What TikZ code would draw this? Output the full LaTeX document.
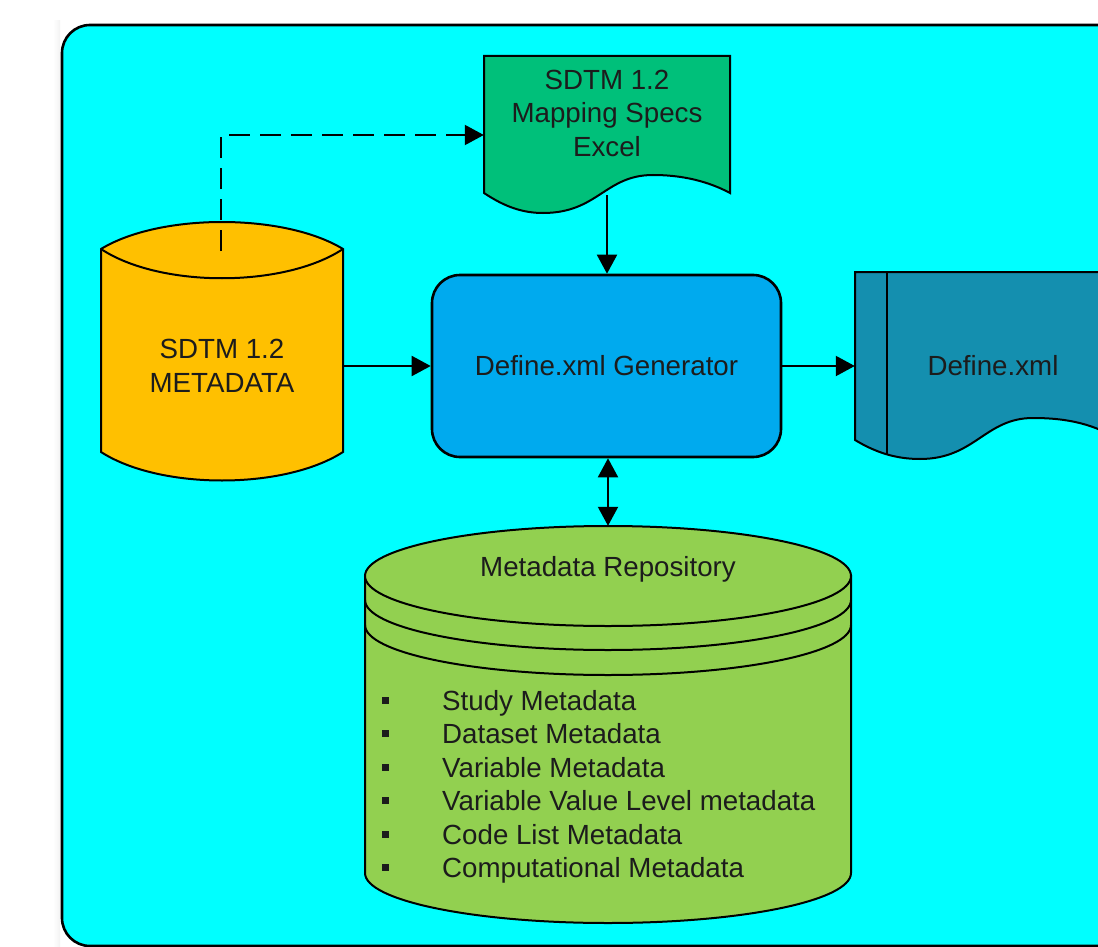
\documentclass[tikz,border=0pt]{standalone}
\usepackage{fontspec}
\setmainfont{Liberation Sans}
\usetikzlibrary{arrows.meta}
\definecolor{bgcyan}{RGB}{0,255,255}
\definecolor{ylw}{RGB}{255,192,0}
\definecolor{specgreen}{RGB}{0,192,122}
\definecolor{genblue}{RGB}{0,170,238}
\definecolor{defteal}{RGB}{20,143,175}
\definecolor{repogreen}{RGB}{146,208,80}
\definecolor{txtcol}{RGB}{28,28,28}
\newcommand\bulbox{\makebox[60pt][l]{\rule[6.5pt]{7pt}{7pt}}}
\tikzset{
  outline/.style={draw=black, line width=2},
  lbl/.style={font=\fontsize{27.7}{33.5}\selectfont, text=txtcol, align=center},
  conn/.style={draw=black, line width=2, -{Triangle[length=19pt,width=20pt]}},
  dconn/.style={draw=black, line width=2, {Triangle[length=19pt,width=20pt]}-{Triangle[length=19pt,width=20pt]}},
  dashconn/.style={conn, dash pattern=on 21pt off 10pt},
}
\begin{document}
\begin{tikzpicture}[x=1pt,y=-1pt]
\useasboundingbox (0,0) rectangle (1098,947);
\clip (0,0) rectangle (1098,947);
\fill[white] (0,0) rectangle (1098,947);
% faint shadow
\fill[left color=white, right color=black!5] (53,21) rectangle (60,947);
% card
\draw[line width=2.6, fill=bgcyan, rounded corners=28] (62,25) rectangle (1160,946);

% yellow cylinder
\filldraw[outline, fill=ylw] (101,249) .. controls (160,213) and (284,213) .. (343,249)
  -- (343,452) .. controls (284,490) and (160,490) .. (101,452) -- cycle;
\draw[outline] (101,249) .. controls (160,288) and (284,288) .. (343,249);
\node[lbl, minimum width=242, minimum height=285] (meta) at (222,366) {SDTM 1.2\\METADATA};
\coordinate (metatop) at (221,251);

% green spec document
\filldraw[outline, fill=specgreen] (484,56) -- (730,56) -- (730,193)
  .. controls (715,185) and (690,175) .. (653,175)
  .. controls (605,175) and (598,213) .. (543,213)
  .. controls (523,213) and (505,207) .. (484,193) -- cycle;
\node[minimum width=246, minimum height=139, inner sep=0] (spec) at (607,125.5) {};
\node[lbl] (spectext) at (607,113) {SDTM 1.2\\Mapping Specs\\Excel};

% generator
\node[lbl, draw=black, line width=2.6, fill=genblue, rounded corners=28,
      minimum width=349, minimum height=182, inner sep=0] (gen) at (606.5,366) {Define.xml Generator};

% Define.xml document
\filldraw[outline, fill=defteal] (855,272) -- (1150,272) -- (1150,452) -- (1120,440)
  .. controls (1095,425) and (1070,418) .. (1033,418)
  .. controls (985,418) and (975,459) .. (920,459)
  .. controls (895,459) and (875,452) .. (855,440) -- cycle;
\draw[outline] (887,272) -- (887,455);
\node[lbl, minimum width=276, minimum height=188, inner sep=0] (defxml) at (993,366) {Define.xml};

% metadata repository
\filldraw[outline, fill=repogreen] (365,576) -- (365,873)
  .. controls (365,900.6) and (473.8,923) .. (608,923)
  .. controls (742.2,923) and (851,900.6) .. (851,873) -- (851,576) -- cycle;
\filldraw[outline, fill=repogreen] (608,576) ellipse [x radius=243, y radius=50];
\foreach \s in {24,49}{
  \draw[outline] (365,576+\s) .. controls (365,603.6+\s) and (473.8,626+\s) .. (608,626+\s)
    .. controls (742.2,626+\s) and (851,603.6+\s) .. (851,576+\s);
}
\node[minimum width=486, minimum height=397, inner sep=0] (repo) at (608,724.5) {};
\node[lbl] (repotitle) at (608,569) {Metadata Repository};
\node[lbl, anchor=base west, inner sep=0] (repolist) at (382,710) {\begin{tabular}[t]{@{}l@{}}
\bulbox Study Metadata\\
\bulbox Dataset Metadata\\
\bulbox Variable Metadata\\
\bulbox Variable Value Level metadata\\
\bulbox Code List Metadata\\
\bulbox Computational Metadata
\end{tabular}};

% connectors
\draw[dashconn] (metatop) |- ([yshift=-9.5pt]spec.west);
\draw[conn] (spec.south) -- (spec.south |- gen.north);
\draw[conn] (meta.east) -- (gen.west);
\draw[conn] (gen.east) -- (defxml.west);
\draw[dconn] (gen.south -| repo.north) -- (repo.north);
\end{tikzpicture}
\end{document}
